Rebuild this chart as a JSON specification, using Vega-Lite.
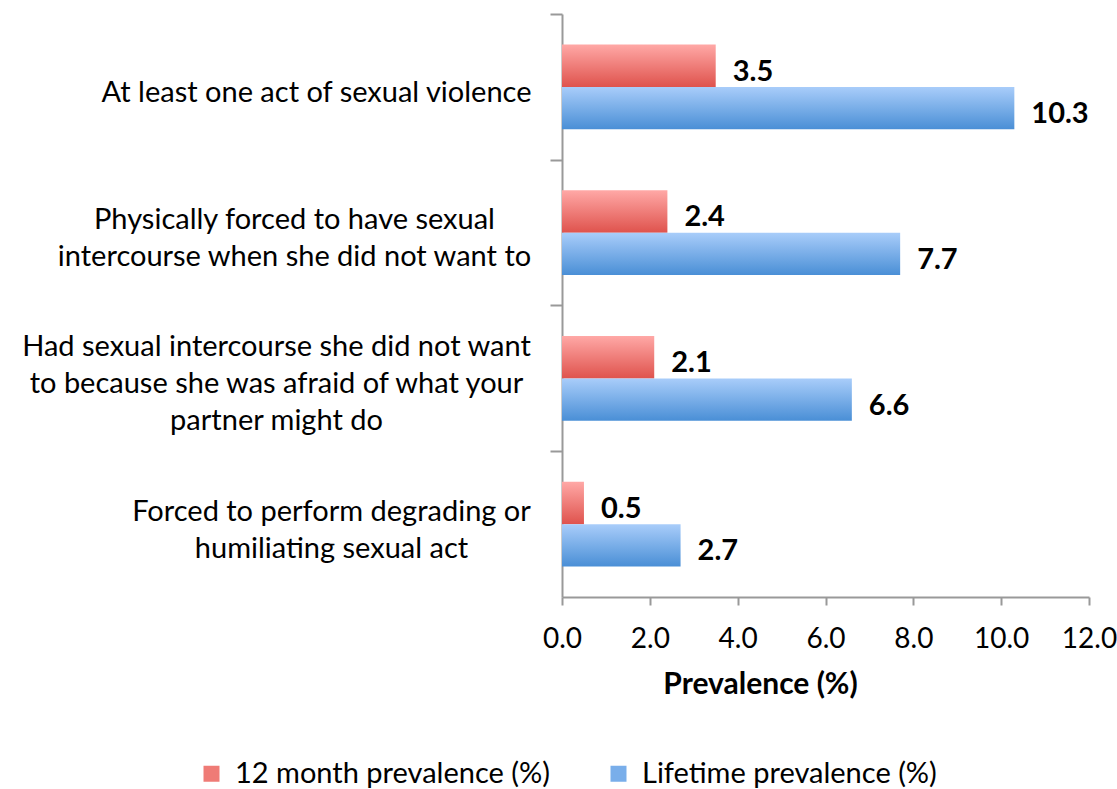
{
  "$schema": "https://vega.github.io/schema/vega-lite/v6.json",
  "width": 527,
  "height": 583,
  "autosize": "none",
  "padding": {"left": 562, "top": 14, "right": 28, "bottom": 192},
  "background": "white",
  "config": {"view": {"stroke": null}, "font": "Lato"},
  "data": {
    "values": [
      {"category": "At least one act of sexual violence", "series": "12 month prevalence (%)", "value": 3.5},
      {"category": "At least one act of sexual violence", "series": "Lifetime prevalence (%)", "value": 10.3},
      {"category": "Physically forced to have sexual|intercourse when she did not want to", "series": "12 month prevalence (%)", "value": 2.4},
      {"category": "Physically forced to have sexual|intercourse when she did not want to", "series": "Lifetime prevalence (%)", "value": 7.7},
      {"category": "Had sexual intercourse she did not want|to because she was afraid of what your|partner  might do", "series": "12 month prevalence (%)", "value": 2.1},
      {"category": "Had sexual intercourse she did not want|to because she was afraid of what your|partner  might do", "series": "Lifetime prevalence (%)", "value": 6.6},
      {"category": "Forced to perform degrading or|humiliating sexual act", "series": "12 month prevalence (%)", "value": 0.5},
      {"category": "Forced to perform degrading or|humiliating sexual act", "series": "Lifetime prevalence (%)", "value": 2.7}
    ]
  },
  "encoding": {
    "y": {
      "field": "category",
      "type": "nominal",
      "sort": null,
      "scale": {"paddingInner": 0.42, "paddingOuter": 0.21},
      "axis": {
        "title": null,
        "labelExpr": "split(datum.label, '|')",
        "labelFontSize": 29,
        "labelColor": "#000000",
        "labelLineHeight": 37,
        "labelLimit": 700,
        "labelAlign": "center",
        "labelPadding": {
          "condition": [
            {"test": "indexof(datum.value, 'At least') === 0", "value": 234},
            {"test": "indexof(datum.value, 'Physically') === 0", "value": 256},
            {"test": "indexof(datum.value, 'Had sexual') === 0", "value": 274}
          ],
          "value": 219
        },
        "tickSize": 12,
        "tickColor": "#999999",
        "tickWidth": 2,
        "tickOffset": -72.9,
        "labelOffset": {
          "condition": [
            {"test": "indexof(datum.value, 'At least') === 0", "value": 79},
            {"test": "indexof(datum.value, 'Had sexual') === 0", "value": 41}
          ],
          "value": 60
        },
        "domainColor": "#999999",
        "domainWidth": 2
      }
    },
    "yOffset": {
      "field": "series",
      "type": "nominal",
      "sort": ["12 month prevalence (%)", "Lifetime prevalence (%)"],
      "scale": {"paddingInner": 0, "paddingOuter": 0}
    },
    "x": {
      "field": "value",
      "type": "quantitative",
      "scale": {"domain": [0, 12], "nice": false},
      "axis": {
        "title": "Prevalence (%)",
        "values": [0, 2, 4, 6, 8, 10, 12],
        "format": ".1f",
        "grid": false,
        "labelFlush": false,
        "labelOverlap": false,
        "labelBound": false,
        "labelFontSize": 28,
        "labelColor": "#000000",
        "labelPadding": 20,
        "tickSize": 8,
        "tickColor": "#999999",
        "tickWidth": 2,
        "domainColor": "#999999",
        "domainWidth": 2,
        "titleFontSize": 30,
        "titleFontWeight": "bold",
        "titleColor": "#000000",
        "titleX": 198,
        "titleY": 72,
        "titleAlign": "center",
        "titleBaseline": "top"
      }
    }
  },
  "layer": [
    {
      "transform": [{"filter": "datum.series === '12 month prevalence (%)'"}],
      "mark": {
        "type": "bar",
        "fill": {"gradient": "linear", "x1": 0, "y1": 0, "x2": 0, "y2": 1, "stops": [{"offset": 0, "color": "#ffa8a6"}, {"offset": 1, "color": "#df534d"}]}
      }
    },
    {
      "transform": [{"filter": "datum.series === 'Lifetime prevalence (%)'"}],
      "mark": {
        "type": "bar",
        "fill": {"gradient": "linear", "x1": 0, "y1": 0, "x2": 0, "y2": 1, "stops": [{"offset": 0, "color": "#a9cdfa"}, {"offset": 1, "color": "#4a8fd6"}]}
      }
    },
    {
      "mark": {"type": "bar", "opacity": 0},
      "encoding": {
        "color": {
          "field": "series",
          "type": "nominal",
          "sort": ["12 month prevalence (%)", "Lifetime prevalence (%)"],
          "scale": {"range": ["#ef7b76", "#79aeea"]},
          "legend": {
            "title": null,
            "orient": "none",
            "direction": "horizontal",
            "legendX": -365,
            "legendY": 745,
            "symbolType": "square",
            "symbolSize": 256,
            "symbolOpacity": 1,
            "symbolStrokeWidth": 0,
            "labelFontSize": 29,
            "labelColor": "#000000",
            "labelLimit": 500,
            "labelOffset": 9,
            "columnPadding": 54,
            "encode": {
              "symbols": {
                "update": {
                  "fill": [
                    {"test": "datum.value === '12 month prevalence (%)'", "value": {"gradient": "linear", "x1": 0, "y1": 0, "x2": 0, "y2": 1, "stops": [{"offset": 0, "color": "#ffa8a6"}, {"offset": 1, "color": "#df534d"}]}},
                    {"value": {"gradient": "linear", "x1": 0, "y1": 0, "x2": 0, "y2": 1, "stops": [{"offset": 0, "color": "#a9cdfa"}, {"offset": 1, "color": "#4a8fd6"}]}}
                  ]
                }
              }
            }
          }
        }
      }
    },
    {
      "mark": {"type": "text", "align": "left", "baseline": "middle", "dx": 17, "dy": 6, "fontSize": 29, "fontWeight": "bold", "color": "#000000"},
      "encoding": {
        "text": {"field": "value", "type": "quantitative", "format": ".1f"}
      }
    }
  ]
}
